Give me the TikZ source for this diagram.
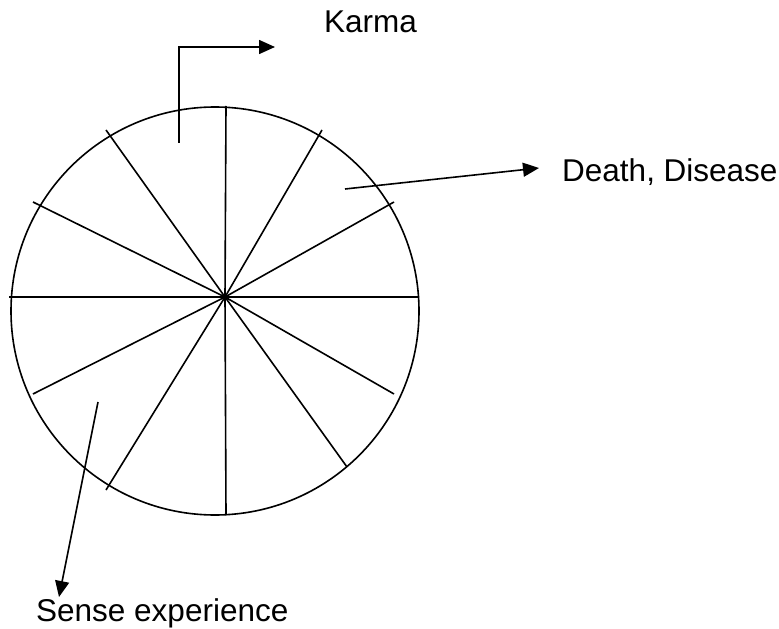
\documentclass[tikz,border=0pt]{standalone}
\usepackage{fontspec}
\setmainfont{Liberation Sans}
\usetikzlibrary{arrows.meta}
\begin{document}
\begin{tikzpicture}[x=1bp,y=-1bp,
  stroke/.style={line width=1.6bp, black},
  pointer/.style={stroke, -{Triangle[length=16bp,width=14bp]}},
  lbl/.style={anchor=base west, inner sep=0pt, font=\fontsize{31.5bp}{36bp}\selectfont}]
\useasboundingbox (0,0) rectangle (779,629);
% wheel
\coordinate (wc) at (215,311);
\coordinate (hub) at (225,297);
\draw[stroke] (wc) circle[radius=204];
\coordinate (st) at (226,106);
\coordinate (sb) at (226,515);
\coordinate (sl) at (9,297);
\coordinate (sr) at (418,297);
\coordinate (sa) at (106,130);
\coordinate (sc) at (33,202);
\coordinate (sd) at (322,130);
\coordinate (se) at (394,202);
\coordinate (sf) at (33,394);
\coordinate (sg) at (106,490);
\coordinate (sh) at (394,394);
\coordinate (sk) at (347,467);
\draw[stroke] (hub) -- (st);
\draw[stroke] (hub) -- (sb);
\draw[stroke] (hub) -- (sl);
\draw[stroke] (hub) -- (sr);
\draw[stroke] (hub) -- (sa);
\draw[stroke] (hub) -- (sc);
\draw[stroke] (hub) -- (sd);
\draw[stroke] (hub) -- (se);
\draw[stroke] (hub) -- (sf);
\draw[stroke] (hub) -- (sg);
\draw[stroke] (hub) -- (sh);
\draw[stroke] (hub) -- (sk);
% labels
\node[lbl] (karma) at (324,33) {Karma};
\node[lbl] (death) at (562,182) {Death, Disease};
\node[lbl] (sense) at (36,621) {Sense experience};
% pointers
\coordinate (k0) at (179,143);
\coordinate (k1) at (179,47);
\coordinate (k2) at (275,47);
\draw[pointer] (k0) -- (k1) -- (k2);
\coordinate (d0) at (345,189);
\coordinate (d1) at (539,168);
\draw[pointer] (d0) -- (d1);
\coordinate (e0) at (98,402);
\coordinate (e1) at (59,597);
\draw[pointer] (e0) -- (e1);
\end{tikzpicture}
\end{document}
